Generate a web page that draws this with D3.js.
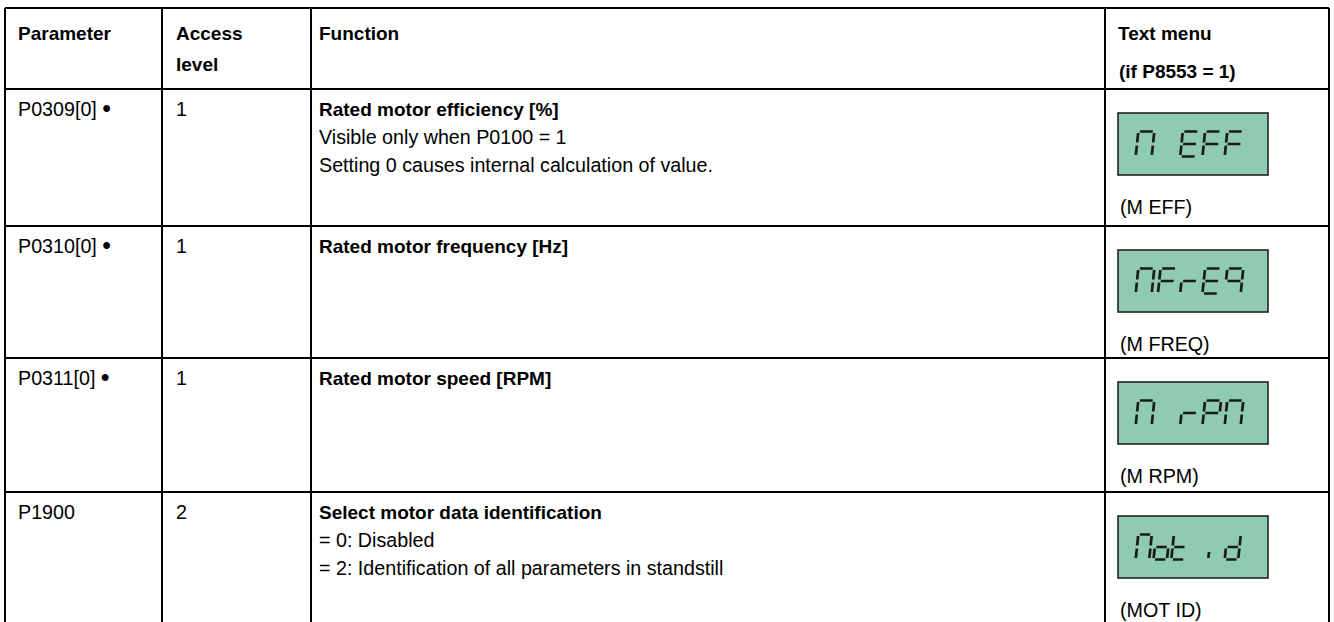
<!DOCTYPE html>
<html>
<head>
<meta charset="utf-8">
<script src="https://cdn.jsdelivr.net/npm/d3@7"></script>
<style>
  html, body { margin: 0; padding: 0; background: #fff; }
  svg { display: block; }
  text { font-family: "Liberation Sans", Arial, sans-serif; fill: #000; }
</style>
</head>
<body>
<svg id="chart" width="1334" height="622"></svg>
<script>
// ---------- data ----------
const headerLines = [["Parameter"], ["Access", "level"], ["Function"], ["Text menu", "(if P8553 = 1)"]];
const parameters = ["P0309[0]", "P0310[0]", "P0311[0]", "P1900"];
const parameterMarks = ["\u2022", "\u2022", "\u2022", ""];
const accessLevels = ["1", "1", "1", "2"];
const functionTitles = [
  "Rated motor efficiency [%]",
  "Rated motor frequency [Hz]",
  "Rated motor speed [RPM]",
  "Select motor data identification"
];
const functionNotes = [
  ["Visible only when P0100 = 1", "Setting 0 causes internal calculation of value."],
  [],
  [],
  ["= 0: Disabled", "= 2: Identification of all parameters in standstill"]
];
const menuDisplays = ["M EFF", "MFrEq", "M rPM", "Mot id"];
const menuLabels = ["(M EFF)", "(M FREQ)", "(M RPM)", "(MOT ID)"];

// ---------- layout ----------
const colEdges = [5, 162, 311, 1105, 1329];
const rowEdges = [8, 89, 226, 358, 492, 640];
const xCol = d3.scaleOrdinal().domain(d3.range(colEdges.length)).range(colEdges);
const yRow = d3.scaleOrdinal().domain(d3.range(rowEdges.length)).range(rowEdges);
const padX = [13, 14, 8, 13];
const fontSize = 19.7;
const boldSize = 19;
const lineGap = 28;

const svg = d3.select("#chart");

// header
const hdr = svg.append("g").attr("class", "header");
headerLines.forEach((lines, c) => {
  const gapH = c === 3 ? 38 : 31;
  lines.forEach((t, i) => {
    hdr.append("text")
      .attr("x", xCol(c) + padX[c] + (c === 3 && i === 1 ? 1 : 0))
      .attr("y", yRow(0) + 25 + i * gapH)
      .attr("dy", "0.35em")
      .style("font-size", boldSize + "px")
      .style("font-weight", "bold")
      .text(t);
  });
});

// body rows
const body = svg.append("g").attr("class", "body");
parameters.forEach((p, r) => {
  const top = yRow(r + 1);
  const base = top + 20;
  const pt = body.append("text").attr("x", xCol(0) + padX[0]).attr("y", base)
    .attr("dy", "0.35em").style("font-size", fontSize + "px");
  pt.append("tspan").text(p + (parameterMarks[r] ? " " : ""));
  if (parameterMarks[r]) pt.append("tspan").style("font-size", "25px").attr("dy", "0.03em").text(parameterMarks[r]);
  body.append("text").attr("x", xCol(1) + padX[1]).attr("y", base)
    .attr("dy", "0.35em").style("font-size", fontSize + "px").text(accessLevels[r]);
  body.append("text").attr("x", xCol(2) + padX[2]).attr("y", base)
    .attr("dy", "0.35em").style("font-size", boldSize + "px").style("font-weight", "bold")
    .text(functionTitles[r]);
  functionNotes[r].forEach((n, i) => {
    body.append("text").attr("x", xCol(2) + padX[2]).attr("y", base + (i + 1) * lineGap)
      .attr("dy", "0.35em").style("font-size", fontSize + "px").text(n);
  });
  body.append("text").attr("x", xCol(3) + padX[3] + 2).attr("y", top + 118)
    .attr("dy", "0.35em").style("font-size", fontSize + "px").text(menuLabels[r]);
});

// ---------- LCD seven-segment displays ----------
const SEG = {
  "M": "abcef", "E": "adefg", "F": "aefg", "r": "eg", "q": "abcfg",
  "P": "abefg", "o": "cdeg", "t": "defg", "i": "i", "d": "bcdeg", " ": ""
};
const boxX0 = xCol(3) + 13, boxW = 150, boxH = 62;
const lcd = svg.append("g").attr("class", "lcd");
menuDisplays.forEach((str, r) => {
  const top = yRow(r + 1) + 24;
  lcd.append("rect").attr("x", boxX0).attr("y", top).attr("width", boxW).attr("height", boxH)
    .attr("fill", "#8fcbb0").attr("stroke", "#222").attr("stroke-width", 1.6);
  const chars = str.split("");
  const gw = chars.length > 5 ? 13.5 : 16, gh = 25, gp = 1.6;
  const xs = d3.scalePoint().domain(d3.range(chars.length))
    .range([boxX0 + 19, boxX0 + 108]);
  chars.forEach((ch, k) => {
    const x0 = xs(k);
    const y0 = top + (boxH - gh) / 2;
    const cx = x0 + gw / 2, cy = y0 + gh / 2;
    const segs = {
      a: [x0 + gp, y0, x0 + gw - gp, y0],
      b: [x0 + gw, y0 + gp, x0 + gw, y0 + gh / 2 - gp],
      c: [x0 + gw, y0 + gh / 2 + gp, x0 + gw, y0 + gh - gp],
      d: [x0 + gp, y0 + gh, x0 + gw - gp, y0 + gh],
      e: [x0, y0 + gh / 2 + gp, x0, y0 + gh - gp],
      f: [x0, y0 + gp, x0, y0 + gh / 2 - gp],
      g: [x0 + gp, y0 + gh / 2, x0 + gw - gp, y0 + gh / 2],
      i: [x0 + gw * 0.1, y0 + gh / 2 + 5, x0 + gw * 0.1, y0 + gh - gp]
    };
    const g = lcd.append("g")
      .attr("transform", `translate(${cx},${cy}) skewX(-6) translate(${-cx},${-cy})`);
    (SEG[ch] || "").split("").forEach(s => {
      const q = segs[s];
      g.append("line").attr("x1", q[0]).attr("y1", q[1]).attr("x2", q[2]).attr("y2", q[3])
        .attr("stroke", "#1a1a1a").attr("stroke-width", 2.7).attr("stroke-linecap", "butt");
    });
  });
});

// ---------- grid lines ----------
const grid = svg.append("g").attr("class", "grid")
  .attr("stroke", "#000").attr("stroke-width", 2).attr("fill", "none");
colEdges.forEach((x, i) => {
  grid.append("line").attr("x1", xCol(i)).attr("x2", xCol(i))
    .attr("y1", yRow(0)).attr("y2", yRow(rowEdges.length - 1));
});
rowEdges.slice(0, -1).forEach((y, i) => {
  grid.append("line").attr("x1", xCol(0)).attr("x2", xCol(colEdges.length - 1))
    .attr("y1", yRow(i)).attr("y2", yRow(i));
});
</script>
</body>
</html>
